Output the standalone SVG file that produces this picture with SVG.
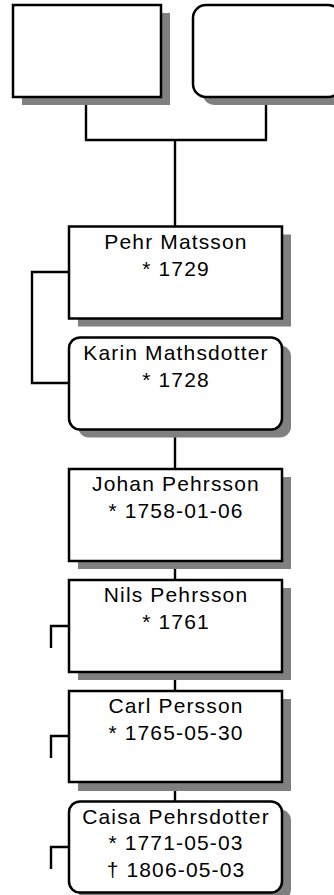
<svg xmlns="http://www.w3.org/2000/svg" width="334" height="895" viewBox="0 0 334 895">
<style>
.box{fill:#fff;stroke:#000;stroke-width:2.5}
.sh{fill:#808080}
.ln{fill:none;stroke:#000;stroke-width:2.4}
text{font-family:"Liberation Sans",Arial,sans-serif;font-size:21px;letter-spacing:1.15px;fill:#000;text-anchor:middle}
</style>
<rect width="334" height="895" fill="#fff"/>
<g id="connectors">
<path class="ln" d="M86,97V140H266V97M175,140V226.5"/>
<path class="ln" d="M69,272H32V383H69"/>
<path class="ln" d="M175,429V469M175,561V580M175,672V691M175,782V801.5"/>
<path class="ln" d="M69,626H51V648M69,736H51V758M69,847H51V869"/>
</g>
<g id="father">
<rect class="sh" x="22" y="13" width="148" height="92"/>
<rect class="box" x="13" y="5" width="148" height="92"/>
</g>
<g id="mother">
<rect class="sh" x="202" y="13" width="148" height="92" rx="13"/>
<rect class="box" x="193" y="5" width="148" height="92" rx="13"/>
</g>
<g id="pehr">
<rect class="sh" x="78" y="234.5" width="213" height="92"/>
<rect class="box" x="69" y="226.5" width="213" height="92"/>
<text x="176" y="249">Pehr Matsson</text>
<text x="176" y="276">* 1729</text>
</g>
<g id="karin">
<rect class="sh" x="78" y="345.5" width="213" height="92" rx="11"/>
<rect class="box" x="69" y="337.5" width="213" height="92" rx="11"/>
<text x="176" y="359.5">Karin Mathsdotter</text>
<text x="176" y="386.5">* 1728</text>
</g>
<g id="johan">
<rect class="sh" x="78" y="477" width="213" height="92"/>
<rect class="box" x="69" y="469" width="213" height="92"/>
<text x="176" y="491">Johan Pehrsson</text>
<text x="176" y="518">* 1758-01-06</text>
</g>
<g id="nils">
<rect class="sh" x="78" y="588" width="213" height="92"/>
<rect class="box" x="69" y="580" width="213" height="92"/>
<text x="176" y="602">Nils Pehrsson</text>
<text x="176" y="628.5">* 1761</text>
</g>
<g id="carl">
<rect class="sh" x="78" y="699" width="213" height="92"/>
<rect class="box" x="69" y="691" width="213" height="91"/>
<text x="176" y="713">Carl Persson</text>
<text x="176" y="739.5">* 1765-05-30</text>
</g>
<g id="caisa">
<rect class="sh" x="78" y="809.5" width="213" height="91" rx="11"/>
<rect class="box" x="69" y="801.5" width="213" height="91" rx="11"/>
<text x="176" y="823.5">Caisa Pehrsdotter</text>
<text x="176" y="850">* 1771-05-03</text>
<text x="176" y="876.5">† 1806-05-03</text>
</g>
</svg>
